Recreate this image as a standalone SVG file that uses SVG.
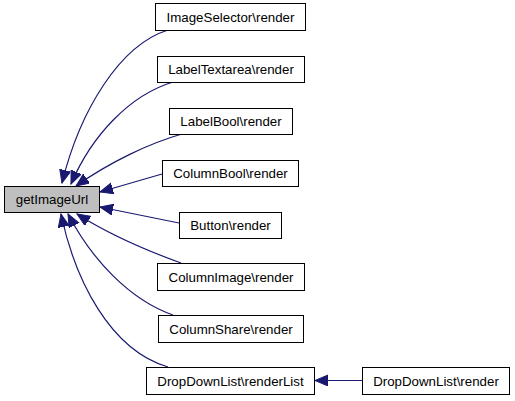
<svg xmlns="http://www.w3.org/2000/svg" width="515" height="401" viewBox="0 0 515 401">
<defs>
<style>
.box{fill:#ffffff;stroke:#000000;stroke-width:1}
.cur{fill:#bfbfbf;stroke:#000000;stroke-width:1}
.lbl{font-family:"Liberation Sans",Arial,sans-serif;font-size:13.3px;text-anchor:middle;fill:#000000}
.edge{fill:none;stroke:#191970;stroke-width:1.2;marker-end:url(#arr)}
</style>
<marker id="arr" markerUnits="userSpaceOnUse" markerWidth="16" markerHeight="14" refX="13" refY="5.5" orient="auto">
<path d="M0,0 L13,5.5 L0,11 Z" fill="#191970" stroke="#191970" stroke-width="1"/>
</marker>
</defs>
<rect width="515" height="401" fill="#ffffff"/>
<g id="connectors">
<path class="edge" d="M168,30 C120,45 80,110 62,183"/>
<path class="edge" d="M173,82 C130,95 92,135 71,184"/>
<path class="edge" d="M182,134 C150,143 110,162 76,186"/>
<path class="edge" d="M162,174 L100,192"/>
<path class="edge" d="M179,223 L100,207"/>
<path class="edge" d="M181,263 C145,250 110,235 77,214"/>
<path class="edge" d="M173,315 C130,300 92,260 68,214"/>
<path class="edge" d="M168,367 C110,350 75,280 61,214"/>
<path class="edge" d="M362,380.5 L315,380.5"/>
</g>
<g id="getImageUrl"><rect class="cur" x="4.5" y="186.5" width="95" height="26"/><text class="lbl" x="52" y="204">getImageUrl</text></g>
<g id="ImageSelector_render"><rect class="box" x="155.5" y="3.5" width="150" height="27"/><text class="lbl" x="230.5" y="22">ImageSelector\render</text></g>
<g id="LabelTextarea_render"><rect class="box" x="157.5" y="56.5" width="147" height="26"/><text class="lbl" x="231" y="74">LabelTextarea\render</text></g>
<g id="LabelBool_render"><rect class="box" x="169.5" y="108.5" width="123" height="26"/><text class="lbl" x="231" y="126">LabelBool\render</text></g>
<g id="ColumnBool_render"><rect class="box" x="162.5" y="160.5" width="136" height="26"/><text class="lbl" x="230.5" y="178">ColumnBool\render</text></g>
<g id="Button_render"><rect class="box" x="179.5" y="212.5" width="102" height="26"/><text class="lbl" x="230.5" y="230">Button\render</text></g>
<g id="ColumnImage_render"><rect class="box" x="157.5" y="263.5" width="147" height="27"/><text class="lbl" x="231" y="282">ColumnImage\render</text></g>
<g id="ColumnShare_render"><rect class="box" x="158.5" y="315.5" width="145" height="27"/><text class="lbl" x="231" y="334">ColumnShare\render</text></g>
<g id="DropDownList_renderList"><rect class="box" x="146.5" y="367.5" width="168" height="27"/><text class="lbl" x="230.5" y="386">DropDownList\renderList</text></g>
<g id="DropDownList_render"><rect class="box" x="362.5" y="367.5" width="147" height="27"/><text class="lbl" x="436" y="386">DropDownList\render</text></g>
</svg>
